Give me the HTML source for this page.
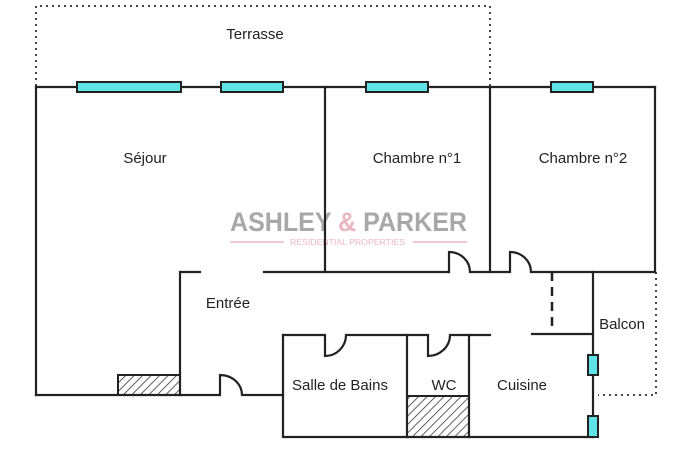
<!DOCTYPE html>
<html><head><meta charset="utf-8"><style>
html,body{margin:0;padding:0;background:#fff;}
svg{display:block;}
text{font-family:"Liberation Sans",sans-serif;fill:#222;}
</style></head><body>
<svg width="700" height="450" viewBox="0 0 700 450" xmlns="http://www.w3.org/2000/svg">
<defs>
<pattern id="h" patternUnits="userSpaceOnUse" width="6" height="6" patternTransform="rotate(45)">
<rect width="6" height="6" fill="#fff"/><line x1="0" y1="0" x2="0" y2="6" stroke="#222" stroke-width="1.4"/>
</pattern>
</defs>
<g stroke="#444" stroke-width="2" fill="none" stroke-dasharray="2,4">
<polyline points="36,86 36,6 490,6 490,86"/>
<polyline points="656,272 656,395 598,395"/>
</g>
<line x1="552" y1="272" x2="552" y2="332" stroke="#222" stroke-width="2.5" stroke-dasharray="9,6"/>
<!-- watermark -->
<text x="230" y="231" font-size="27" font-weight="bold" textLength="237" lengthAdjust="spacingAndGlyphs" style="fill:#a8a8a8">ASHLEY <tspan style="fill:#e9b6c2">&amp;</tspan> PARKER</text>
<line x1="230" y1="242" x2="284" y2="242" stroke="#ecb6c3" stroke-width="1.5"/>
<line x1="413" y1="242" x2="467" y2="242" stroke="#ecb6c3" stroke-width="1.5"/>
<text x="290" y="245" font-size="8" textLength="115" lengthAdjust="spacingAndGlyphs" style="fill:#ecb6c3">RESIDENTIAL  PROPERTIES</text>
<!-- hatch -->
<rect x="118" y="375" width="62" height="20" fill="url(#h)" stroke="#222" stroke-width="2"/>
<rect x="407" y="396" width="62" height="41" fill="url(#h)" stroke="#222" stroke-width="2"/>
<g stroke="#222" stroke-width="2.2" fill="none" stroke-linecap="square">
<line x1="36" y1="87" x2="655" y2="87"/>
<line x1="36" y1="87" x2="36" y2="395"/>
<line x1="325" y1="87" x2="325" y2="272"/>
<line x1="490" y1="87" x2="490" y2="272"/>
<line x1="655" y1="87" x2="655" y2="272"/>
<polyline points="200,272 180,272 180,395"/>
<line x1="264" y1="272" x2="449" y2="272"/>
<path d="M449,272 L449,252 A21,20 0 0 1 470,272 L510,272 L510,252 A21,20 0 0 1 531,272 L655,272"/>
<path d="M36,395 L220,395 L220,375 A22,20 0 0 1 242,395 L283,395"/>
<polyline points="283,335 283,437 593,437"/>
<path d="M283,335 L325,335 L325,356 A21,21 0 0 0 346,335 L428,335 L428,356 A22,21 0 0 0 450,335 L490,335"/>
<line x1="532" y1="334" x2="593" y2="334"/>
<line x1="407" y1="335" x2="407" y2="437"/>
<line x1="469" y1="335" x2="469" y2="437"/>
<line x1="593" y1="272" x2="593" y2="437"/>
</g>
<g fill="#5fe3e6" stroke="#222" stroke-width="2">
<rect x="77" y="82" width="104" height="10"/>
<rect x="221" y="82" width="62" height="10"/>
<rect x="366" y="82" width="62" height="10"/>
<rect x="551" y="82" width="42" height="10"/>
<rect x="588" y="355" width="10" height="20"/>
<rect x="588" y="416" width="10" height="21"/>
</g>
<g font-size="15" text-anchor="middle">
<text x="255" y="39">Terrasse</text>
<text x="145" y="163">Séjour</text>
<text x="417" y="163">Chambre n°1</text>
<text x="583" y="163">Chambre n°2</text>
<text x="228" y="308">Entrée</text>
<text x="622" y="329">Balcon</text>
<text x="340" y="390">Salle de Bains</text>
<text x="444" y="390">WC</text>
<text x="522" y="390">Cuisine</text>
</g>
</svg>
</body></html>
